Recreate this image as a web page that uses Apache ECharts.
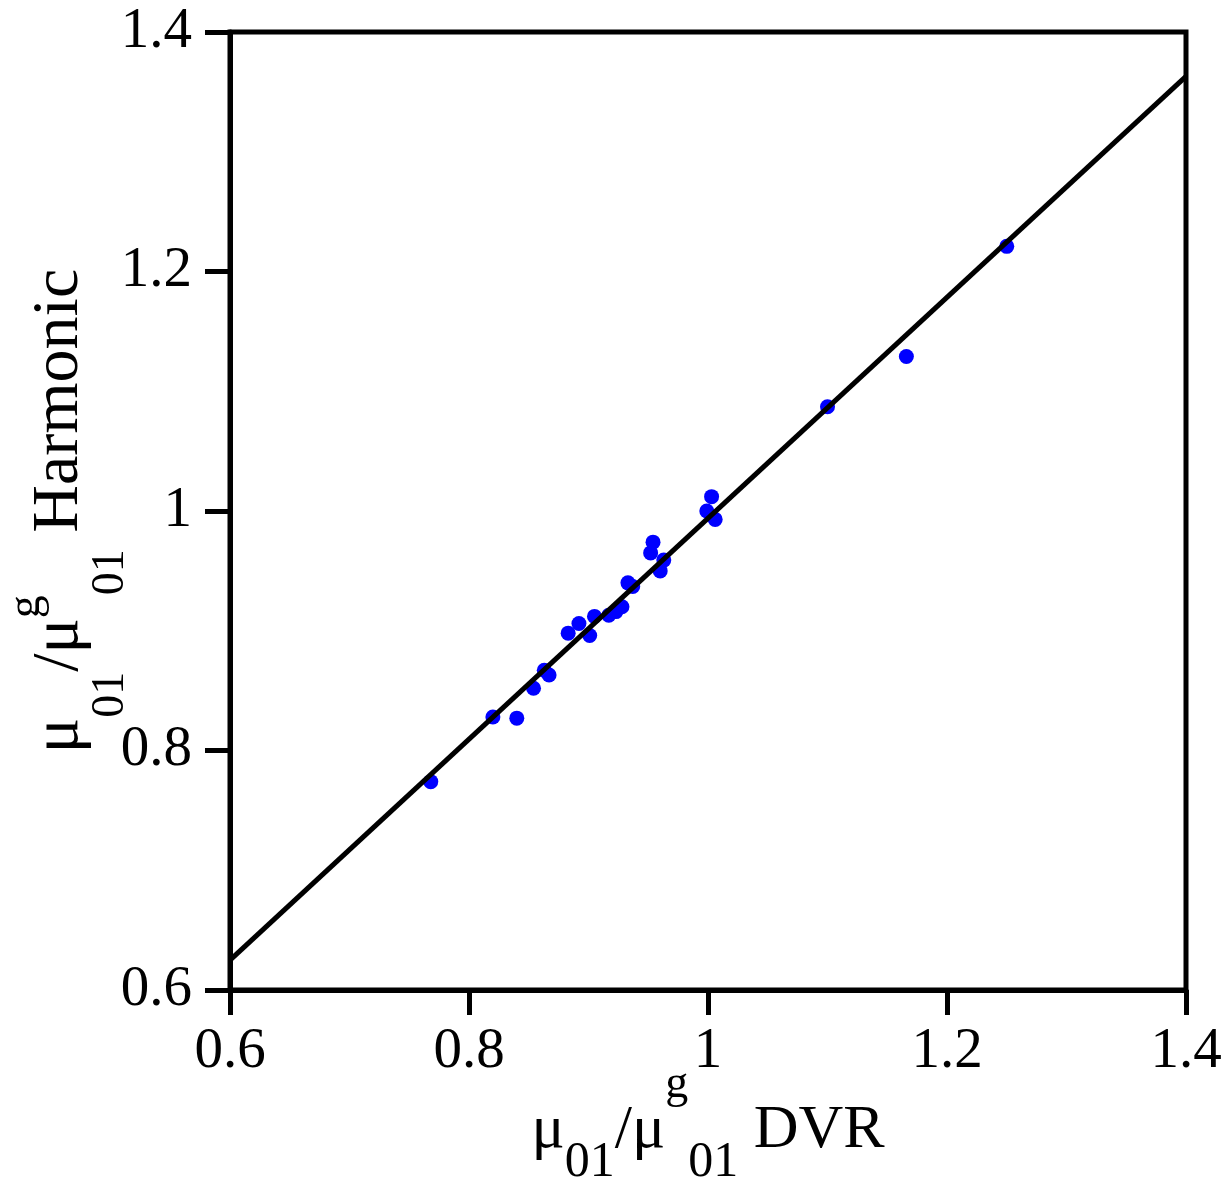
<!DOCTYPE html>
<html>
<head>
<meta charset="utf-8">
<script src="https://cdn.jsdelivr.net/npm/echarts@6/dist/echarts.min.js"></script>
<style>
html,body{margin:0;padding:0;background:#fff;}
#chart{width:1229px;height:1180px;}
</style>
</head>
<body>
<div id="chart"></div>
<script>
// Data
var dvrValues = [0.768, 0.820, 0.840, 0.854, 0.863, 0.867, 0.883, 0.892, 0.901, 0.905, 0.917, 0.923, 0.928, 0.933, 0.937, 0.952, 0.954, 0.963, 0.960, 1.003, 0.999, 1.006, 1.100, 1.166, 1.250];
var harmonicValues = [0.774, 0.828, 0.827, 0.852, 0.867, 0.863, 0.898, 0.906, 0.896, 0.912, 0.913, 0.916, 0.920, 0.940, 0.937, 0.965, 0.974, 0.959, 0.950, 1.012, 1.000, 0.993, 1.087, 1.129, 1.221];
var fitX = [0.6, 1.4];
var fitY = [0.625, 1.363];
var xTicks = [0.6, 0.8, 1.0, 1.2, 1.4];
var yTicks = [0.6, 0.8, 1.0, 1.2, 1.4];

var FONT = '"Liberation Serif", "Times New Roman", serif';
var points = dvrValues.map(function (x, i) { return [x, harmonicValues[i]]; });
var linePts = fitX.map(function (x, i) { return [x, fitY[i]]; });

function fmt(v) {
  var r = Math.round(v * 10) / 10;
  return r === 1 ? '1' : String(r);
}

function tok(size, padTop, total) {
  return { fontFamily: FONT, fontSize: size, lineHeight: size, color: '#000',
           padding: [padTop, 0, total - padTop - size, 0], verticalAlign: 'top' };
}

var richX = { m: tok(62, 39, 130), sub: tok(50, 77, 130), sup: tok(46, 1, 130) };
var richY = { m: tok(66, 27, 140), sub: tok(46, 88, 140), sup: tok(46, 4, 140) };

var chart = echarts.init(document.getElementById('chart'));
chart.setOption({
  backgroundColor: '#fff',
  animation: false,
  grid: { left: 230, right: 43, top: 32, bottom: 190, show: true, borderColor: '#000', borderWidth: 5,
          containLabel: false, outerBoundsMode: 'none' },
  xAxis: {
    type: 'value', min: 0.6, max: 1.4, interval: 0.2,
    axisLine: { lineStyle: { color: '#000', width: 5 } },
    axisTick: { show: true, length: 25, lineStyle: { color: '#000', width: 5 } },
    splitLine: { show: false },
    axisLabel: { color: '#000', fontFamily: FONT, fontSize: 57, margin: 34, formatter: fmt },
    name: '{m|μ}{sub|01}{m|/μ}{sup|g}{sub|01}{m| DVR}',
    nameLocation: 'middle', nameGap: 71, nameMoveOverlap: false,
    nameTextStyle: { rich: richX }
  },
  yAxis: {
    type: 'value', min: 0.6, max: 1.4, interval: 0.2,
    axisLine: { lineStyle: { color: '#000', width: 5 } },
    axisTick: { show: true, length: 25, lineStyle: { color: '#000', width: 5 } },
    splitLine: { show: false },
    axisLabel: { color: '#000', fontFamily: FONT, fontSize: 57, margin: 38, formatter: fmt },
    name: '{m|μ}{sub|01}{m|/μ}{sup|g}{sub|01}{m| Harmonic}',
    nameLocation: 'middle', nameGap: 164, nameMoveOverlap: false,
    nameTextStyle: { rich: richY }
  },
  series: [
    {
      type: 'scatter', data: points, symbol: 'circle', symbolSize: 15,
      itemStyle: { color: '#0000ff', opacity: 1 }, z: 2
    },
    {
      type: 'line', data: linePts, showSymbol: false, symbol: 'none',
      lineStyle: { color: '#000', width: 5 }, z: 3
    }
  ]
});
</script>
</body>
</html>
